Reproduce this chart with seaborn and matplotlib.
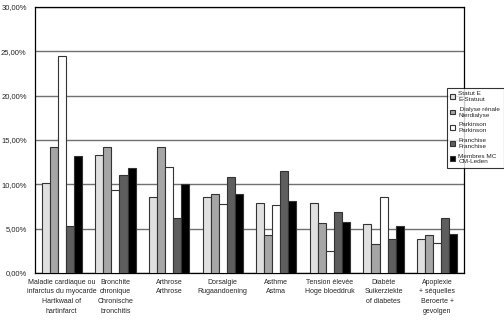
import matplotlib
matplotlib.use("Agg")
import matplotlib.pyplot as plt
import seaborn as sns
import pandas as pd
from matplotlib.ticker import FuncFormatter

categories = [
    "Maladie cardiaque ou\ninfarctus du myocarde\nHartkwaal of\nhartinfarct",
    "Bronchite\nchronique\nChronische\nbronchitis",
    "Arthrose\nArthrose",
    "Dorsalgie\nRugaandoening",
    "Asthme\nAstma",
    "Tension élevée\nHoge bloeddruk",
    "Diabète\nSuikerziekte\nof diabetes",
    "Apoplexie\n+ séquelles\nBeroerte +\ngevolgen",
]
series_names = [
    "Statut E\nE-Statuut",
    " Dialyse rénale\nNierdialyse",
    "Parkinson\nParkinson",
    "Franchise\nFranchise",
    "Membres MC\nCM-Leden",
]
statut_e = [10.15, 13.3, 8.6, 8.6, 7.9, 7.9, 5.5, 3.8]
dialyse = [14.2, 14.2, 14.2, 8.9, 4.3, 5.6, 3.25, 4.3]
parkinson = [24.5, 9.4, 12.0, 7.8, 7.7, 2.5, 8.6, 3.35]
franchise = [5.3, 11.0, 6.2, 10.8, 11.5, 6.9, 3.85, 6.2]
membres = [13.2, 11.85, 10.0, 8.9, 8.15, 5.7, 5.35, 4.4]

colors = ["#e0e0e0", "#a6a6a6", "#ffffff", "#5e5e5e", "#000000"]

all_series = [statut_e, dialyse, parkinson, franchise, membres]
rows = []
for name, vals in zip(series_names, all_series):
    for c, v in zip(categories, vals):
        rows.append({"cat": c, "series": name, "value": v})
df = pd.DataFrame(rows)

sns.set_style("white")
plt.rcParams["font.family"] = ["Liberation Sans", "DejaVu Sans"]

fig = plt.figure(figsize=(5.04, 3.36), dpi=100)
ax = fig.add_axes([35/504, 1 - 273/336, (464 - 35)/504, (273 - 7)/336])

sns.barplot(data=df, x="cat", y="value", hue="series", order=categories,
            hue_order=series_names, palette=colors, width=0.75,
            edgecolor="#333333", linewidth=0.8, ax=ax, zorder=3,
            errorbar=None)

ax.set_ylim(0, 30)
ax.set_yticks([0, 5, 10, 15, 20, 25, 30])
ax.yaxis.set_major_formatter(FuncFormatter(lambda v, p: f"{v:.2f}".replace(".", ",") + "%"))
ax.set_xlim(-0.5, len(categories) - 0.5)
ax.grid(axis="y", color="#707070", linewidth=1.0, zorder=0)
ax.set_axisbelow(True)
for s in ax.spines.values():
    s.set_color("black")
    s.set_linewidth(0.9)
ax.set_xlabel("")
ax.set_ylabel("")
ax.tick_params(axis="y", labelsize=5.5, length=0, pad=6)
ax.tick_params(axis="x", labelsize=5.0, length=0, pad=4)
for t in ax.get_xticklabels():
    t.set_linespacing(1.55)

ax.legend_.remove()
handles, labels = ax.get_legend_handles_labels()
leg = fig.legend(handles, labels, loc="upper left",
                 bbox_to_anchor=(447/504, 1 - 88/336), fontsize=4.6,
                 frameon=True, fancybox=False, edgecolor="black",
                 handlelength=0.8, handleheight=0.8, handletextpad=0.5,
                 labelspacing=0.75, borderpad=0.5, borderaxespad=0)
leg.get_frame().set_linewidth(0.8)

fig.savefig("out.png", dpi=100)
